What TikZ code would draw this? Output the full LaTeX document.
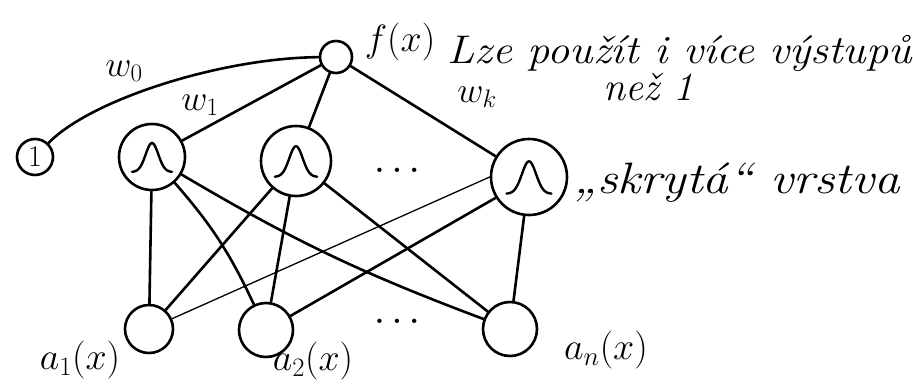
\RequirePackage{fix-cm}
\documentclass[tikz,border=0pt]{standalone}
\usepackage{fontspec}
\begin{document}
\begin{tikzpicture}[x=1pt,y=1pt,
  edge/.style={line width=2.6pt, line cap=round},
  thinedge/.style={line width=1.3pt, line cap=round},
  unit/.style={circle, draw, line width=2.6pt, inner sep=0pt},
  lbl/.style={font=\fontsize{38}{40}\selectfont, inner sep=0pt},
  wlbl/.style={font=\fontsize{36}{38}\selectfont, inner sep=0pt},
  txt/.style={inner sep=0pt, anchor=base west},
  bellline/.style={line width=2.4pt, line cap=round, line join=round},
]
\useasboundingbox (0,0) rectangle (913,-383);
% nodes
\node[unit, minimum size=36pt, font=\fontsize{30}{32}\selectfont] (one) at (35,-157) {1};
\node[unit, minimum size=32pt] (f) at (336,-57) {};
\node[unit, minimum size=66pt] (h1) at (152,-157) {};
\node[unit, minimum size=70pt] (h2) at (296,-161) {};
\node[unit, minimum size=76pt] (hk) at (529,-177) {};
\node[unit, minimum size=48pt] (a1) at (149,-329) {};
\node[unit, minimum size=54pt] (a2) at (266,-330) {};
\node[unit, minimum size=54pt] (an) at (510,-329) {};
% bells
\foreach \n/\s in {h1/1, h2/1.06, hk/1.12}{
  \draw[bellline, shift={(\n.center)}, scale=\s] plot[domain=-20:20, samples=50, smooth] (\x, {-15 + 29*exp(-(\x*\x)/80)});
}
% output connections
\draw[edge] (one) .. controls (90,-100) and (220,-58) .. (f);
\draw[edge] (h1) -- (f);
\draw[edge] (h2) -- (f);
\draw[edge] (hk) -- (f);
% hidden-input connections
\draw[edge] (h1) -- (a1);
\draw[edge] (h1) to[bend left=8] (a2);
\draw[edge] (h1) to[bend right=5] (an);
\draw[edge] (h2) -- (a1);
\draw[edge] (h2) -- (a2);
\draw[edge] (h2) -- (an);
\draw[thinedge] (hk.180) -- (a1);
\draw[edge] (hk.212) -- (a2);
\draw[edge] (hk) -- (an);
% labels
\node[lbl] (lf) at (400,-42) {$f(x)$};
\node[wlbl] (lw0) at (124,-71) {$w_0$};
\node[wlbl] (lw1) at (200,-105) {$w_1$};
\node[wlbl] (lwk) at (477,-97) {$w_k$};
\node[lbl] (la1) at (80,-360) {$a_1(x)$};
\node[lbl] (la2) at (313,-361) {$a_2(x)$};
\node[lbl] (lan) at (606,-350) {$a_n(x)$};
\node[lbl, font=\fontsize{30}{32}\selectfont\bfseries] (dh) at (397,-170) {.\hspace{8pt}.\hspace{8pt}.};
\node[lbl, font=\fontsize{30}{32}\selectfont\bfseries] (db) at (397,-321) {.\hspace{8pt}.\hspace{8pt}.};
\node[txt, font=\fontsize{40}{44}\selectfont\itshape] (t1) at (447,-63) {\scalebox{1.11}[1]{Lze použít i více výstupů}};
\node[txt, font=\fontsize{40}{44}\selectfont\itshape] (t2) at (603,-100) {než\hspace{14pt}1};
\node[txt, font=\fontsize{44}{48}\selectfont\itshape] (t3) at (573,-193) {\scalebox{1.16}[1]{„skrytá“ vrstva}};
\end{tikzpicture}
\end{document}
